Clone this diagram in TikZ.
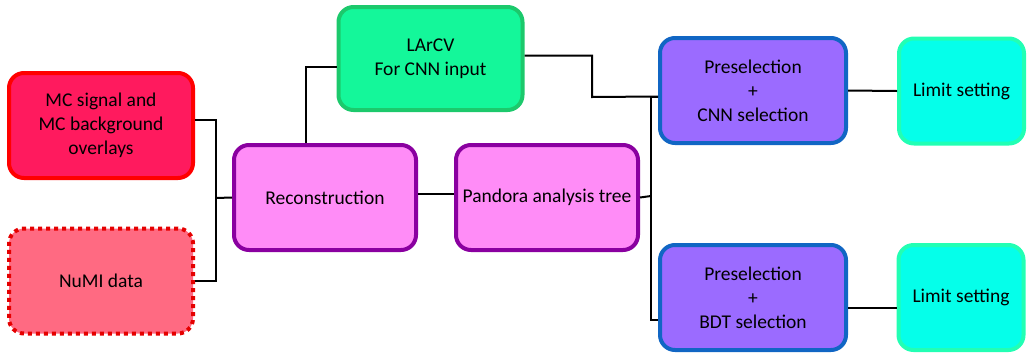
\documentclass[tikz,border=0pt]{standalone}
\usepackage{fontspec}
\setmainfont{Carlito}
\usepackage{tikz}
\usetikzlibrary{shapes.geometric, arrows}
\definecolor{mcfill}{HTML}{FF1A5E}
\definecolor{numifill}{HTML}{FF6A82}
\definecolor{recofill}{HTML}{FF8CF7}
\definecolor{recoline}{HTML}{8A00A0}
\definecolor{larcvfill}{HTML}{14F79A}
\definecolor{larcvline}{HTML}{1CC96C}
\definecolor{selfill}{HTML}{9B6BFF}
\definecolor{selline}{HTML}{1166C4}
\definecolor{limfill}{HTML}{05FFEA}
\definecolor{limline}{HTML}{22FFB4}
\tikzstyle{box} = [rectangle, rounded corners=15pt, minimum width=184pt, minimum height=105pt, text centered, align=center, line width=4pt, font=\fontsize{19.5}{24}\selectfont]
\tikzstyle{mcbox} = [box, draw=red, fill=mcfill]
\tikzstyle{databox} = [box, draw=red!90!black, fill=numifill, dash pattern=on 4pt off 4pt]
\tikzstyle{recobox} = [box, minimum width=182pt, draw=recoline, fill=recofill]
\tikzstyle{cnnbox} = [box, minimum height=103pt, draw=larcvline, fill=larcvfill]
\tikzstyle{selbox} = [box, minimum width=186pt, draw=selline, fill=selfill]
\tikzstyle{limbox} = [box, minimum width=125pt, draw=limline, fill=limfill]
\tikzstyle{line} = [line width=2pt, black]

\begin{document}
\begin{tikzpicture}[x=1pt, y=-1pt, node distance=222pt]
    \useasboundingbox (0,0) rectangle (1027,354);

    \node (mc) [mcbox] at (101,125.5) {MC signal and\\MC background\\overlays};
    \node (numi) [databox] at (101,281) {NuMI data};
    \node (reco) [recobox] at (325,197.5) {Reconstruction};
    \node (pandora) [recobox, right of=reco] {Pandora analysis tree};
    \node (larcv) [cnnbox] at (430.5,58.5) {LArCV\\For CNN input};
    \node (precnn) [selbox] at (753,90.5) {Preselection\\+\\CNN selection};
    \node (prebdt) [selbox] at (753,297.5) {Preselection\\+\\BDT selection};
    \node (limcnn) [limbox] at (961.5,91) {Limit setting};
    \node (limbdt) [limbox] at (961,297.5) {Limit setting};

    \coordinate (join) at (216,198);
    \coordinate (bend) at (592,97);
    \coordinate (spine) at (651,196);

    \draw [line] ([yshift=6pt]mc.east) -| (join);
    \draw [line] (numi.east) -| (join);
    \draw [line] (join) -- (reco.west);
    \draw [line] ([xshift=-19pt]reco.north) |- ([yshift=-8pt]larcv.west);
    \draw [line] ([yshift=4pt]reco.east) -- ([yshift=4pt]pandora.west);
    \draw [line] ([yshift=3pt]larcv.east) -| (bend) -- ([yshift=-6pt]precnn.west);
    \draw [line] (pandora.east) -- (spine);
    \draw [line] ([yshift=-6pt]precnn.west) -| (spine);
    \draw [line] (spine) |- ([yshift=-22pt]prebdt.west);
    \draw [line] (precnn.east) -- (limcnn.west);
    \draw [line] ([yshift=-10pt]prebdt.east) -- ([yshift=-10pt]limbdt.west);

\end{tikzpicture}
\end{document}
